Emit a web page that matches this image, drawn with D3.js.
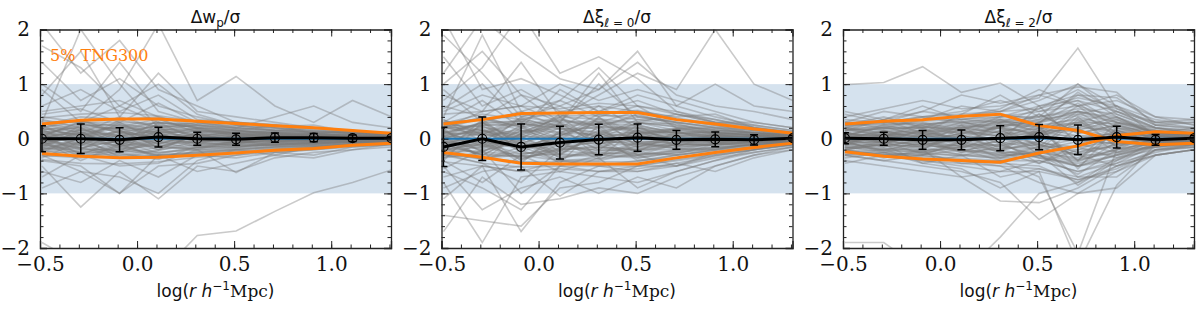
<!DOCTYPE html>
<html>
<head>
<meta charset="utf-8">
<script src="https://cdn.jsdelivr.net/npm/d3@7"></script>
<style>
	body { margin: 0; background: #fff; }
	svg { display: block; }
</style>
</head>
<body>
<div id="chart"></div>
<script>
// x positions of the radial bins (log r)
var xBins = [-0.49, -0.29, -0.09, 0.11, 0.31, 0.51, 0.71, 0.91, 1.11, 1.31];

var xTickVals = [-0.5, 0.0, 0.5, 1.0];
var xTickLabels = ["\u22120.5", "0.0", "0.5", "1.0"];
var yTickVals = [2, 1, 0, -1, -2];
var yTickLabels = ["2", "1", "0", "\u22121", "\u22122"];

//------------- w_p panel
var wpMean = [0.0, 0.0, -0.02, 0.03, 0.0, -0.01, 0.02, 0.02, 0.01, 0.01];
var wpErr = [0.24, 0.27, 0.22, 0.18, 0.12, 0.11, 0.085, 0.075, 0.06, 0.03];
var wpOrangeHi = [0.27, 0.34, 0.36, 0.36, 0.32, 0.28, 0.24, 0.2, 0.15, 0.1];
var wpOrangeLo = [-0.27, -0.32, -0.35, -0.34, -0.3, -0.26, -0.21, -0.18, -0.12, -0.08];
var wpGrey = [
	[0.1, 0.2, 0.05, 0.15, 0.08, 0.05, 0.03, 0.02, 0.02, 0.01],
	[-0.1, -0.25, -0.15, -0.05, -0.1, -0.06, -0.05, -0.03, -0.02, -0.02],
	[0.2, 0.05, 0.25, 0.1, 0.15, 0.1, 0.07, 0.05, 0.03, 0.02],
	[-0.2, -0.1, -0.3, -0.2, -0.12, -0.1, -0.08, -0.06, -0.04, -0.03],
	[0.05, 0.3, 0.1, 0.25, 0.05, 0.12, 0.1, 0.08, 0.05, 0.04],
	[-0.05, 0.1, -0.1, 0.05, 0.0, -0.02, 0.01, 0.0, 0.01, 0.0],
	[0.3, 0.15, 0.2, 0.3, 0.2, 0.15, 0.12, 0.1, 0.07, 0.05],
	[-0.3, -0.35, -0.2, -0.25, -0.2, -0.15, -0.12, -0.1, -0.07, -0.05],
	[0.15, -0.05, 0.3, -0.05, 0.1, 0.03, 0.05, 0.04, 0.03, 0.02],
	[-0.15, 0.25, -0.05, 0.2, -0.05, 0.06, -0.02, 0.03, 0.0, 0.01],
	[0.0, -0.2, 0.15, -0.15, 0.05, -0.08, 0.02, -0.04, -0.01, -0.01],
	[0.25, 0.4, 0.35, 0.4, 0.25, 0.2, 0.15, 0.12, 0.1, 0.06],
	[-0.25, -0.15, -0.35, -0.3, -0.25, -0.2, -0.15, -0.12, -0.08, -0.06],
	[0.1, -0.3, 0.0, 0.1, -0.15, -0.05, -0.06, -0.02, -0.03, -0.02],
	[-0.1, 0.05, 0.2, -0.1, 0.12, 0.08, 0.04, 0.06, 0.02, 0.03],
	[0.35, 0.2, -0.1, 0.35, 0.18, 0.1, 0.08, 0.04, 0.05, 0.03],
	[-0.35, -0.05, -0.25, 0.0, -0.08, -0.12, -0.1, -0.08, -0.05, -0.04],
	[0.05, 0.1, 0.4, 0.2, 0.3, 0.22, 0.18, 0.14, 0.1, 0.07],
	[-0.05, -0.4, -0.1, -0.35, -0.28, -0.22, -0.18, -0.14, -0.1, -0.07],
	[0.2, 0.35, 0.1, 0.05, 0.0, 0.02, 0.06, 0.05, 0.04, 0.02],
	[-0.2, 0.0, 0.05, -0.2, 0.08, -0.04, 0.0, -0.02, 0.0, -0.01],
	[0.0, 0.15, -0.25, 0.3, -0.02, 0.0, 0.03, 0.01, 0.02, 0.0],
	[0.12, 0.22, 0.28, 0.18, 0.14, 0.1, 0.09, 0.07, 0.05, 0.04],
	[-0.12, -0.18, -0.22, -0.28, -0.16, -0.14, -0.1, -0.08, -0.06, -0.04],
	[0.22, 0.28, 0.12, 0.24, 0.22, 0.18, 0.14, 0.11, 0.08, 0.06],
	[-0.22, -0.28, -0.18, -0.12, -0.22, -0.18, -0.14, -0.11, -0.08, -0.05],
	[0.08, -0.12, 0.18, 0.08, -0.04, 0.04, -0.03, 0.02, 0.01, 0.01],
	[-0.08, 0.12, -0.18, -0.08, 0.04, -0.04, 0.03, -0.02, -0.01, -0.01],
	[0.28, 0.1, 0.22, 0.14, 0.26, 0.2, 0.16, 0.13, 0.09, 0.07],
	[-0.28, -0.22, -0.1, -0.32, -0.26, -0.2, -0.16, -0.13, -0.09, -0.07],
	[0.0, 0.05, -0.05, 0.02, 0.03, 0.01, -0.01, 0.01, 0.0, 0.0],
	[0.18, -0.18, 0.08, -0.1, 0.1, -0.06, 0.06, -0.03, 0.02, 0.01],
	[-0.18, 0.18, -0.08, 0.12, -0.1, 0.06, -0.06, 0.03, -0.02, -0.01],
	[0.32, 0.3, 0.3, 0.28, 0.28, 0.24, 0.2, 0.16, 0.12, 0.08],
	[-0.32, -0.3, -0.3, -0.3, -0.28, -0.24, -0.19, -0.16, -0.11, -0.07],
	[0.04, 0.32, 0.22, 0.36, 0.12, 0.16, 0.11, 0.09, 0.06, 0.05],
	[-0.04, -0.32, -0.26, -0.38, -0.14, -0.16, -0.11, -0.09, -0.06, -0.05],
	[0.14, 0.08, -0.14, -0.02, 0.16, 0.08, 0.02, 0.06, 0.03, 0.02],
	[-0.14, -0.08, 0.14, 0.02, -0.16, -0.08, -0.02, -0.06, -0.03, -0.02],
	[0.24, -0.02, 0.34, 0.22, 0.04, 0.14, 0.1, 0.04, 0.07, 0.03],
	[-0.24, 0.02, -0.34, -0.22, -0.04, -0.14, -0.1, -0.04, -0.07, -0.03],
	[0.06, 0.16, 0.06, 0.12, 0.18, 0.12, 0.13, 0.1, 0.04, 0.05],
	[-0.06, -0.16, -0.04, -0.14, -0.18, -0.1, -0.13, -0.1, -0.04, -0.05],
	[0.16, 0.26, 0.16, -0.16, 0.06, 0.0, 0.04, -0.01, 0.05, 0.02],
	[-0.16, -0.26, -0.12, 0.16, -0.06, 0.02, -0.04, 0.01, -0.05, -0.02],
	[0.38, 0.45, 0.48, 0.42, 0.32, 0.3, 0.26, 0.2, 0.14, 0.1],
	[-0.38, -0.45, -0.46, -0.42, -0.34, -0.3, -0.24, -0.2, -0.13, -0.1],
	[0.03, 0.12, -0.06, 0.08, 0.06, 0.03, 0.02, 0.03, 0.01, 0.01],
	[-0.03, -0.12, 0.06, -0.08, -0.06, -0.03, -0.02, -0.03, -0.01, -0.01],
	[0.1, 0.05, 0.12, -0.03, 0.09, 0.07, 0.05, 0.02, 0.03, 0.02],
	[-0.1, -0.05, -0.12, 0.03, -0.09, -0.07, -0.05, -0.02, -0.03, -0.02],
	[0.17, 0.2, 0.2, 0.12, 0.12, 0.09, 0.08, 0.06, 0.04, 0.03],
	[-0.17, -0.2, -0.2, -0.12, -0.12, -0.09, -0.08, -0.06, -0.04, -0.03],
	[0.0, 0.18, 0.02, 0.2, -0.08, 0.05, 0.04, 0.05, 0.02, 0.0],
	[0.0, -0.18, -0.02, -0.2, 0.08, -0.05, -0.04, -0.05, -0.02, 0.0],
	[0.22, 0.12, 0.05, 0.26, 0.15, 0.13, 0.11, 0.08, 0.06, 0.04],
	[-0.22, -0.12, -0.05, -0.26, -0.15, -0.13, -0.11, -0.08, -0.06, -0.04],
	[0.07, 0.25, 0.25, 0.05, 0.2, 0.16, 0.06, 0.09, 0.05, 0.03],
	[-0.07, -0.25, -0.25, -0.05, -0.2, -0.16, -0.06, -0.09, -0.05, -0.03],
	[0.13, -0.1, 0.1, 0.13, 0.02, 0.06, 0.08, 0.0, 0.04, 0.02],
	[-0.13, 0.1, -0.1, -0.13, -0.02, -0.06, -0.08, 0.0, -0.04, -0.02],
	[0.26, 0.32, 0.15, 0.3, 0.24, 0.19, 0.15, 0.13, 0.1, 0.06],
	[-0.26, -0.32, -0.15, -0.3, -0.24, -0.19, -0.15, -0.13, -0.1, -0.06],
	[0.05, 0.0, 0.14, 0.0, 0.0, 0.1, 0.0, 0.04, 0.0, 0.01],
	[-0.05, 0.0, -0.14, 0.0, 0.0, -0.1, 0.0, -0.04, 0.0, -0.01],
	[0.19, 0.06, 0.26, 0.16, 0.19, 0.04, 0.12, 0.07, 0.07, 0.05],
	[-0.19, -0.06, -0.26, -0.16, -0.19, -0.04, -0.12, -0.07, -0.07, -0.05],
	[0.6, 0.9, 0.5, 0.8, 0.35, 0.3, 0.2, 0.15, 0.1, 0.08],
	[1.4, 0.7, 1.1, 0.6, 0.4, 0.25, 0.15, 0.2, 0.12, 0.1],
	[0.8, 1.6, 0.4, 1.2, 0.5, 0.4, 0.3, 0.2, 0.15, 0.1],
	[2.1, 1.2, 1.8, 0.9, 0.6, 0.3, 0.25, 0.18, 0.1, 0.12],
	[0.4, 0.3, 0.9, 2.1, 0.7, 1.14, 0.6, 0.3, 0.7, 0.4],
	[1.0, 0.5, 1.4, 0.5, 0.3, 0.2, 0.4, 0.6, 0.3, 0.2],
	[-0.6, -0.8, -0.4, -0.7, -0.3, -0.35, -0.25, -0.2, -0.15, -0.1],
	[-0.9, -0.6, -1.0, -0.5, -0.45, -0.3, -0.2, -0.15, -0.1, -0.05],
	[-0.5, -1.25, -0.6, -1.1, -0.5, -0.6, -0.35, -0.25, -0.2, -0.15],
	[-0.4, -0.5, -1.0, -0.3, -0.6, -0.45, -0.3, -0.35, -0.2, -0.1],
	[-1.9, -2.3, -2.6, -2.5, -1.77, -1.69, -1.33, -0.99, -0.8, -0.57],
	[0.5, 0.6, 0.7, 0.4, 0.2, 0.15, 0.25, 0.1, 0.05, 0.1],
	[0.9, 0.3, 0.6, 1.0, 0.45, 0.25, 0.2, 0.1, 0.15, 0.06],
	[-0.7, -0.3, -0.5, -0.45, -0.2, -0.62, -0.25, -0.3, -0.15, -0.12],
	[1.7, 1.3, 0.6, 0.3, 0.2, 0.1, 0.05, 0.08, 0.06, 0.05],
	[0.3, 2.0, 1.0, 0.2, 0.25, 0.15, 0.1, 0.05, 0.04, 0.03],
	[-0.3, -0.6, -0.7, -1.0, -0.4, -0.2, -0.3, -0.15, -0.1, -0.08],
	[0.45, 0.55, 0.3, 0.65, 0.3, 0.3, 0.22, 0.25, 0.12, 0.1]
];

//------------- xi_0 panel
var xi0Mean = [-0.15, 0.0, -0.15, -0.07, -0.015, 0.02, -0.02, -0.01, -0.02, 0.01];
var xi0Err = [0.36, 0.4, 0.42, 0.3, 0.28, 0.25, 0.17, 0.135, 0.095, 0.05];
var xi0OrangeHi = [0.27, 0.35, 0.46, 0.47, 0.48, 0.48, 0.35, 0.27, 0.18, 0.1];
var xi0OrangeLo = [-0.25, -0.34, -0.45, -0.46, -0.46, -0.46, -0.35, -0.25, -0.16, -0.08];
var xi0Grey = [
	[0.1, 0.3, -0.1, 0.2, 0.1, 0.25, 0.1, 0.05, 0.03, 0.02],
	[-0.2, -0.1, -0.35, -0.2, -0.15, -0.2, -0.12, -0.08, -0.05, -0.03],
	[0.25, 0.1, 0.3, 0.0, 0.35, 0.1, 0.2, 0.12, 0.06, 0.04],
	[-0.1, -0.3, 0.05, -0.35, -0.25, -0.3, -0.2, -0.15, -0.1, -0.05],
	[0.0, 0.2, -0.2, 0.1, -0.05, 0.05, 0.0, 0.02, -0.01, 0.0],
	[-0.3, 0.05, -0.4, -0.1, -0.3, -0.35, -0.25, -0.18, -0.12, -0.07],
	[0.2, 0.4, 0.2, 0.35, 0.25, 0.4, 0.3, 0.2, 0.12, 0.06],
	[-0.05, -0.2, 0.15, -0.15, 0.15, -0.1, 0.05, -0.04, 0.02, -0.01],
	[0.15, -0.15, 0.4, 0.3, 0.0, 0.3, 0.15, 0.1, 0.08, 0.05],
	[-0.25, 0.35, -0.15, 0.05, 0.3, -0.05, -0.08, 0.0, -0.03, 0.01],
	[0.05, -0.35, -0.3, -0.4, -0.4, -0.25, -0.3, -0.2, -0.1, -0.06],
	[0.3, 0.15, 0.0, 0.45, 0.2, 0.45, 0.25, 0.15, 0.1, 0.07],
	[-0.15, 0.0, -0.45, 0.15, -0.2, 0.15, -0.15, -0.1, -0.06, -0.04],
	[0.1, 0.25, 0.25, -0.25, 0.4, -0.15, 0.1, 0.06, 0.04, 0.02],
	[-0.35, -0.25, 0.1, 0.25, -0.35, 0.2, -0.05, 0.08, 0.01, 0.03],
	[0.0, 0.1, -0.1, -0.05, 0.05, -0.4, -0.35, -0.25, -0.15, -0.08],
	[0.35, -0.05, 0.35, 0.1, 0.45, 0.35, 0.35, 0.25, 0.15, 0.09],
	[-0.4, 0.3, -0.25, -0.3, 0.1, 0.05, 0.02, -0.05, -0.02, -0.02],
	[0.2, -0.4, 0.1, 0.4, -0.1, 0.0, 0.18, 0.14, 0.06, 0.04],
	[-0.1, 0.15, -0.05, -0.45, 0.25, -0.3, -0.1, -0.12, -0.08, -0.04],
	[0.12, 0.28, 0.32, 0.25, 0.3, 0.3, 0.22, 0.16, 0.1, 0.05],
	[-0.12, -0.28, -0.32, -0.28, -0.3, -0.32, -0.22, -0.16, -0.1, -0.05],
	[0.22, 0.05, 0.12, 0.38, 0.15, 0.2, 0.05, 0.08, 0.04, 0.03],
	[-0.22, -0.05, -0.15, -0.38, -0.15, -0.2, -0.05, -0.08, -0.04, -0.03],
	[0.05, 0.18, -0.25, 0.05, 0.38, 0.12, 0.12, 0.04, 0.05, 0.02],
	[-0.05, -0.18, 0.25, -0.05, -0.38, -0.12, -0.12, -0.04, -0.05, -0.02],
	[0.3, 0.35, 0.42, 0.42, 0.42, 0.42, 0.3, 0.22, 0.15, 0.08],
	[-0.3, -0.35, -0.42, -0.42, -0.42, -0.42, -0.3, -0.22, -0.14, -0.08],
	[0.0, -0.05, 0.05, 0.0, -0.02, 0.02, 0.01, -0.01, 0.0, 0.0],
	[0.16, -0.25, 0.2, -0.1, 0.2, -0.25, 0.15, -0.1, 0.06, -0.02],
	[-0.16, 0.25, -0.2, 0.1, -0.2, 0.25, -0.15, 0.1, -0.06, 0.02],
	[0.08, 0.12, 0.38, 0.18, 0.05, 0.35, 0.25, 0.18, 0.11, 0.06],
	[-0.08, -0.12, -0.38, -0.18, -0.05, -0.35, -0.25, -0.18, -0.11, -0.06],
	[0.25, 0.22, 0.08, 0.3, 0.32, 0.08, 0.18, 0.2, 0.08, 0.05],
	[-0.25, -0.22, -0.08, -0.3, -0.32, -0.08, -0.18, -0.2, -0.08, -0.05],
	[0.18, 0.38, 0.15, 0.12, 0.22, 0.18, 0.08, 0.12, 0.07, 0.04],
	[-0.18, -0.38, -0.15, -0.12, -0.22, -0.18, -0.08, -0.12, -0.07, -0.04],
	[0.35, 0.08, 0.28, 0.2, 0.12, 0.28, 0.28, 0.1, 0.12, 0.07],
	[-0.35, -0.08, -0.28, -0.2, -0.12, -0.28, -0.28, -0.1, -0.12, -0.07],
	[0.04, 0.3, -0.05, 0.28, -0.1, 0.15, -0.02, 0.06, 0.02, 0.01],
	[-0.04, -0.3, 0.05, -0.28, 0.1, -0.15, 0.02, -0.06, -0.02, -0.01],
	[0.45, 0.5, 0.6, 0.55, 0.65, 0.6, 0.45, 0.35, 0.22, 0.12],
	[-0.42, -0.5, -0.6, -0.55, -0.6, -0.6, -0.45, -0.32, -0.2, -0.12],
	[0.28, 0.45, 0.35, 0.5, 0.45, 0.52, 0.38, 0.28, 0.18, 0.1],
	[-0.28, -0.45, -0.52, -0.5, -0.5, -0.5, -0.38, -0.28, -0.18, -0.1],
	[0.03, 0.15, -0.08, 0.1, 0.08, 0.05, 0.03, 0.03, 0.01, 0.01],
	[-0.03, -0.15, 0.08, -0.1, -0.08, -0.05, -0.03, -0.03, -0.01, -0.01],
	[0.12, 0.06, 0.16, -0.04, 0.12, 0.1, 0.07, 0.03, 0.03, 0.02],
	[-0.12, -0.06, -0.16, 0.04, -0.12, -0.1, -0.07, -0.03, -0.03, -0.02],
	[0.18, 0.25, 0.28, 0.18, 0.2, 0.15, 0.12, 0.08, 0.05, 0.03],
	[-0.18, -0.25, -0.28, -0.18, -0.2, -0.15, -0.12, -0.08, -0.05, -0.03],
	[0.0, 0.22, 0.02, 0.28, -0.1, 0.08, 0.05, 0.06, 0.02, 0.0],
	[0.0, -0.22, -0.02, -0.28, 0.1, -0.08, -0.05, -0.06, -0.02, 0.0],
	[0.22, 0.15, 0.06, 0.34, 0.22, 0.2, 0.15, 0.1, 0.07, 0.04],
	[-0.22, -0.15, -0.06, -0.34, -0.22, -0.2, -0.15, -0.1, -0.07, -0.04],
	[0.08, 0.3, 0.32, 0.06, 0.28, 0.25, 0.1, 0.12, 0.06, 0.03],
	[-0.08, -0.3, -0.32, -0.06, -0.28, -0.25, -0.1, -0.12, -0.06, -0.03],
	[0.14, -0.12, 0.14, 0.18, 0.03, 0.1, 0.12, 0.0, 0.05, 0.02],
	[-0.14, 0.12, -0.14, -0.18, -0.03, -0.1, -0.12, 0.0, -0.05, -0.02],
	[0.26, 0.38, 0.22, 0.4, 0.36, 0.3, 0.22, 0.16, 0.12, 0.06],
	[-0.26, -0.38, -0.22, -0.4, -0.36, -0.3, -0.22, -0.16, -0.12, -0.06],
	[0.05, 0.0, 0.2, 0.0, 0.0, 0.15, 0.0, 0.05, 0.0, 0.01],
	[-0.05, 0.0, -0.2, 0.0, 0.0, -0.15, 0.0, -0.05, 0.0, -0.01],
	[0.2, 0.08, 0.36, 0.22, 0.28, 0.06, 0.18, 0.09, 0.08, 0.05],
	[-0.2, -0.08, -0.36, -0.22, -0.28, -0.06, -0.18, -0.09, -0.08, -0.05],
	[1.0, 1.6, 0.8, 0.6, 0.9, 1.6, 0.6, 0.4, 0.25, 0.15],
	[2.2, 0.9, 1.1, 0.8, 0.5, 0.7, 0.45, 0.3, 0.2, 0.1],
	[0.7, 1.3, 2.3, 1.2, 1.5, 1.1, 0.5, 0.35, 0.2, 0.12],
	[0.5, 0.8, 0.6, 1.0, 0.7, 0.9, 0.7, 0.5, 0.3, 0.2],
	[1.5, 0.6, 0.9, 0.5, 0.6, 0.5, 0.4, 0.45, 0.2, 0.12],
	[0.4, 1.9, 0.5, 0.7, 1.3, 0.6, 0.5, 0.3, 0.25, 0.15],
	[0.8, 0.5, 1.4, 0.4, 0.8, 1.2, 0.9, 2.0, 1.0, 0.7],
	[0.3, 0.7, 0.2, 0.9, 0.5, 0.8, 0.6, 1.0, 0.6, 0.5],
	[0.6, 0.4, 0.8, 0.3, 1.0, 0.4, 0.3, 0.2, 0.15, 0.1],
	[1.9, 1.2, 0.4, 0.6, 0.3, 0.5, 0.35, 0.25, 0.1, 0.08],
	[-0.6, -0.9, -1.3, -0.5, -0.6, -0.5, -0.4, -0.3, -0.2, -0.1],
	[-1.1, -0.5, -1.7, -0.8, -0.5, -0.6, -0.5, -0.25, -0.15, -0.1],
	[-0.8, -1.9, -0.7, -0.6, -0.7, -0.8, -0.6, -0.4, -0.25, -0.15],
	[-1.7, -0.7, -1.2, -1.1, -0.9, -1.0, -0.7, -0.5, -0.3, -0.2],
	[-0.5, -1.3, -0.9, -0.7, -1.0, -0.7, -0.9, -0.5, -0.3, -0.15],
	[-0.9, -0.6, -0.5, -1.05, -0.6, -0.55, -0.45, -0.6, -0.35, -0.2],
	[-1.4, -1.5, -1.6, -0.9, -0.8, -0.5, -0.5, -0.3, -0.2, -0.1],
	[-0.7, -0.5, -0.6, -0.4, -0.5, -0.4, -0.3, -0.2, -0.15, -0.1],
	[0.9, 0.3, 0.5, 0.2, 0.6, 0.2, 0.1, 0.15, 0.1, 0.05],
	[-0.4, -0.8, -0.3, -0.6, -0.35, -0.9, -0.6, -0.4, -0.2, -0.12],
	[1.2, 2.2, 1.6, 1.1, 0.9, 1.4, 0.8, 0.6, 0.5, 0.35],
	[0.2, 0.5, 0.6, 0.3, 1.2, 0.3, 0.45, 0.3, 0.3, 0.2],
	[-0.3, -0.45, -0.8, -0.2, -0.15, -0.3, -0.5, -0.35, -0.25, -0.15],
	[0.55, 1.0, 0.3, 0.7, 0.4, 0.6, 0.2, 0.1, 0.05, 0.04],
	[-0.55, -0.2, -1.0, -0.5, -0.3, -0.2, -0.2, -0.1, -0.05, -0.04]
];

//------------- xi_2 panel
var xi2Mean = [0.01, 0.0, -0.02, -0.02, 0.01, 0.03, -0.02, 0.03, -0.02, 0.01];
var xi2Err = [0.1, 0.12, 0.17, 0.18, 0.23, 0.23, 0.27, 0.2, 0.1, 0.05];
var xi2OrangeA = [0.27, 0.32, 0.35, 0.41, 0.45, 0.24, 0.15, -0.05, -0.11, -0.08];
var xi2OrangeB = [-0.24, -0.32, -0.37, -0.4, -0.43, -0.26, -0.13, 0.06, 0.13, 0.1];
var xi2Grey = [
	[0.1, 0.05, 0.15, 0.2, 0.3, 0.2, 0.3, 0.15, 0.05, 0.05],
	[-0.1, -0.15, -0.1, -0.2, -0.3, -0.25, -0.4, -0.2, -0.05, -0.03],
	[0.05, 0.1, -0.05, 0.1, 0.05, 0.3, 0.5, 0.35, 0.1, 0.08],
	[-0.05, 0.0, 0.1, -0.1, 0.15, -0.1, -0.3, -0.1, 0.02, -0.02],
	[0.15, 0.2, 0.2, 0.25, 0.35, 0.1, 0.2, 0.4, 0.15, 0.1],
	[-0.15, -0.2, -0.25, -0.15, -0.1, -0.35, -0.5, -0.3, -0.1, -0.06],
	[0.0, -0.05, 0.05, 0.0, -0.15, 0.15, 0.6, 0.1, -0.03, 0.02],
	[0.2, 0.15, 0.1, 0.3, 0.2, 0.45, 0.1, 0.25, 0.08, 0.12],
	[-0.2, -0.1, -0.15, -0.3, -0.35, -0.15, -0.7, -0.45, -0.12, -0.1],
	[0.05, 0.25, 0.3, 0.15, 0.4, 0.5, 0.7, 0.3, 0.2, 0.15],
	[-0.05, -0.25, -0.3, -0.05, -0.25, -0.45, -0.2, 0.05, -0.08, -0.05],
	[0.1, 0.0, -0.2, 0.2, 0.1, -0.2, 0.35, -0.15, 0.12, 0.06],
	[-0.1, 0.1, 0.0, -0.25, 0.0, 0.25, -0.55, 0.2, 0.0, 0.0],
	[0.25, 0.3, 0.25, 0.35, 0.45, 0.35, 0.8, 0.55, 0.25, 0.2],
	[-0.25, -0.3, -0.35, -0.4, -0.45, -0.5, -0.8, -0.35, -0.2, -0.15],
	[0.0, 0.05, 0.2, -0.05, 0.25, 0.05, 0.45, 0.6, 0.05, 0.03],
	[0.12, -0.05, 0.05, 0.05, -0.05, 0.6, -0.1, 0.15, -0.05, 0.04],
	[-0.12, 0.15, -0.05, 0.1, 0.2, -0.3, 0.2, -0.25, -0.15, -0.08],
	[0.05, -0.1, 0.1, -0.15, 0.3, 0.4, 1.0, 0.45, 0.2, 0.1],
	[-0.05, 0.05, -0.1, 0.25, -0.2, 0.2, -0.4, 0.3, 0.1, 0.05],
	[0.12, 0.18, 0.22, 0.28, 0.32, 0.25, 0.35, 0.2, 0.08, 0.06],
	[-0.12, -0.18, -0.22, -0.28, -0.32, -0.25, -0.35, -0.2, -0.08, -0.06],
	[0.2, 0.1, 0.15, 0.12, 0.2, 0.35, 0.45, 0.3, 0.12, 0.08],
	[-0.2, -0.1, -0.15, -0.12, -0.2, -0.35, -0.45, -0.3, -0.12, -0.08],
	[0.05, 0.22, 0.05, 0.22, 0.1, 0.05, 0.25, 0.1, 0.04, 0.03],
	[-0.05, -0.22, -0.05, -0.22, -0.1, -0.05, -0.25, -0.1, -0.04, -0.03],
	[0.25, 0.28, 0.32, 0.36, 0.4, 0.4, 0.55, 0.45, 0.18, 0.12],
	[-0.22, -0.28, -0.32, -0.36, -0.4, -0.4, -0.6, -0.4, -0.16, -0.12],
	[0.0, 0.02, -0.02, 0.05, 0.0, 0.08, 0.05, 0.0, 0.02, 0.01],
	[0.08, -0.08, 0.18, -0.08, 0.22, -0.15, 0.4, -0.15, 0.06, -0.03],
	[-0.08, 0.08, -0.18, 0.08, -0.22, 0.15, -0.4, 0.15, -0.06, 0.03],
	[0.15, 0.25, 0.12, 0.18, 0.28, 0.15, 0.15, 0.35, 0.1, 0.1],
	[-0.15, -0.25, -0.12, -0.18, -0.28, -0.15, -0.15, -0.35, -0.1, -0.1],
	[0.1, 0.12, 0.25, 0.32, 0.12, 0.3, 0.65, 0.2, 0.15, 0.05],
	[-0.1, -0.12, -0.25, -0.32, -0.12, -0.3, -0.65, -0.2, -0.15, -0.05],
	[0.18, 0.05, 0.28, 0.08, 0.35, 0.22, 0.3, 0.5, 0.2, 0.09],
	[-0.18, -0.05, -0.28, -0.08, -0.35, -0.22, -0.3, -0.5, -0.2, -0.09],
	[0.02, 0.15, 0.0, 0.15, 0.05, 0.45, 0.1, 0.25, -0.02, 0.04],
	[-0.02, -0.15, 0.0, -0.15, -0.05, -0.45, -0.1, -0.25, 0.02, -0.04],
	[0.22, 0.2, 0.08, 0.25, 0.18, 0.1, 0.5, 0.05, 0.14, 0.07],
	[-0.22, -0.2, -0.08, -0.25, -0.18, -0.1, -0.5, -0.05, -0.14, -0.07],
	[0.3, 0.3, 0.4, 0.45, 0.5, 0.55, 0.75, 0.6, 0.25, 0.18],
	[-0.28, -0.32, -0.4, -0.45, -0.5, -0.55, -0.75, -0.55, -0.22, -0.16],
	[0.08, 0.05, 0.12, 0.0, 0.25, 0.28, 0.85, 0.4, 0.05, 0.1],
	[-0.08, -0.05, -0.12, 0.0, -0.25, -0.28, -0.85, -0.4, -0.05, -0.1],
	[0.03, 0.08, -0.06, 0.1, 0.12, 0.08, 0.15, 0.05, 0.01, 0.01],
	[-0.03, -0.08, 0.06, -0.1, -0.12, -0.08, -0.15, -0.05, -0.01, -0.01],
	[0.1, 0.04, 0.12, -0.04, 0.15, 0.18, 0.28, 0.12, 0.04, 0.02],
	[-0.1, -0.04, -0.12, 0.04, -0.15, -0.18, -0.28, -0.12, -0.04, -0.02],
	[0.16, 0.18, 0.2, 0.2, 0.26, 0.22, 0.38, 0.25, 0.06, 0.04],
	[-0.16, -0.18, -0.2, -0.2, -0.26, -0.22, -0.38, -0.25, -0.06, -0.04],
	[0.0, 0.14, 0.02, 0.18, -0.1, 0.12, 0.2, 0.15, 0.02, 0.0],
	[0.0, -0.14, -0.02, -0.18, 0.1, -0.12, -0.2, -0.15, -0.02, 0.0],
	[0.2, 0.1, 0.05, 0.22, 0.3, 0.3, 0.42, 0.18, 0.08, 0.05],
	[-0.2, -0.1, -0.05, -0.22, -0.3, -0.3, -0.42, -0.18, -0.08, -0.05],
	[0.06, 0.22, 0.24, 0.05, 0.2, 0.1, 0.3, 0.28, 0.05, 0.03],
	[-0.06, -0.22, -0.24, -0.05, -0.2, -0.1, -0.3, -0.28, -0.05, -0.03],
	[0.13, -0.08, 0.08, 0.13, 0.05, 0.2, 0.05, 0.08, 0.06, 0.02],
	[-0.13, 0.08, -0.08, -0.13, -0.05, -0.2, -0.05, -0.08, -0.06, -0.02],
	[0.24, 0.26, 0.28, 0.3, 0.36, 0.32, 0.5, 0.38, 0.12, 0.08],
	[-0.24, -0.26, -0.28, -0.3, -0.36, -0.32, -0.5, -0.38, -0.12, -0.08],
	[0.05, 0.0, 0.14, 0.0, 0.0, 0.15, 0.0, 0.1, 0.0, 0.01],
	[-0.05, 0.0, -0.14, 0.0, 0.0, -0.15, 0.0, -0.1, 0.0, -0.01],
	[0.18, 0.06, 0.22, 0.15, 0.22, 0.05, 0.25, 0.05, 0.1, 0.05],
	[-0.18, -0.06, -0.22, -0.15, -0.22, -0.05, -0.25, -0.05, -0.1, -0.05],
	[0.99, 1.03, 1.32, 0.85, 1.02, 0.6, 0.7, 0.5, 0.3, 0.35],
	[0.4, 0.55, 0.7, 0.55, 0.6, 0.75, 1.66, 0.55, 0.3, 0.2],
	[0.5, 0.35, 0.5, 0.8, 0.65, 0.8, 0.95, 0.85, 0.25, 0.3],
	[0.3, 0.5, 0.4, 0.5, 0.7, 0.5, 0.6, 0.7, 0.4, 0.25],
	[-0.4, -0.5, -0.6, -0.7, -1.14, -1.17, -0.9, -0.5, -0.3, -0.2],
	[-0.3, -0.4, -0.5, -0.6, -0.8, -1.48, -1.0, -0.6, -0.3, -0.2],
	[-0.3, -0.2, -0.4, -0.5, -0.6, -0.6, -2.3, -0.85, -0.1, -0.05],
	[-0.2, -0.3, -0.3, -0.2, -0.4, -0.7, -2.1, -0.2, 0.1, 0.05],
	[-1.9, -1.9, -2.4, -2.5, -1.8, -1.0, -0.8, -0.5, -0.3, -0.2],
	[0.35, 0.3, 0.5, 0.4, 0.55, 0.9, 0.6, 0.8, 0.4, 0.35],
	[-0.35, -0.25, -0.45, -0.55, -0.9, -0.6, -0.75, -0.6, -0.2, -0.15],
	[0.2, 0.35, 0.6, 0.35, 0.3, 0.55, 0.9, 0.5, 0.2, 0.15],
	[-0.3, -0.4, -0.3, -0.4, -0.5, -0.8, -1.0, -0.9, -0.3, -0.2],
	[0.3, 0.2, 0.35, 0.6, 0.5, 0.7, 1.0, 0.6, 0.35, 0.25],
	[-0.2, -0.35, -0.2, -0.7, -0.6, -0.4, -0.6, -0.45, -0.25, -0.1],
	[0.15, 0.35, 0.1, 0.45, 0.8, 0.4, 0.5, 0.3, 0.15, 0.1],
	[-0.15, -0.1, -0.45, -0.3, -0.7, -0.55, -0.7, -0.7, -0.2, -0.12],
	[0.45, 0.3, 0.4, 0.3, 0.4, 0.6, 0.8, 0.75, 0.3, 0.3],
	[-0.45, -0.3, -0.25, -0.45, -0.4, -0.3, -0.5, -0.3, -0.15, -0.1],
	[0.25, 0.4, 0.2, 0.4, 0.5, 0.8, 0.6, 0.4, 0.1, 0.2]
];

var panels = [
	{ id: "wp", left: 40, title: ["\u0394w", "p", "", "/\u03c3"], grey: wpGrey, mean: wpMean, err: wpErr, orange: [wpOrangeHi, wpOrangeLo], note: "5% TNG300" },
	{ id: "xi0", left: 441.5, title: ["\u0394\u03be", "\u2113", " = 0", "/\u03c3"], grey: xi0Grey, mean: xi0Mean, err: xi0Err, orange: [xi0OrangeHi, xi0OrangeLo] },
	{ id: "xi2", left: 843, title: ["\u0394\u03be", "\u2113", " = 2", "/\u03c3"], grey: xi2Grey, mean: xi2Mean, err: xi2Err, orange: [xi2OrangeA, xi2OrangeB] }
];

var W = 1200, H = 310,
	_pw = 351,
	_top = 29.5,
	_bottom = 248,
	_serif = "'DejaVu Serif', 'Liberation Serif', serif",
	_sans = "'DejaVu Sans', sans-serif";

var svg = d3.select("#chart").append("svg").attr("width", W).attr("height", H);

//-------------------------
function drawPanel(p) {
	var x = d3.scaleLinear().domain([-0.5, 1.308]).range([p.left, p.left + _pw]),
		y = d3.scaleLinear().domain([-2, 2]).range([_bottom, _top]);

	var g = svg.append("g");

	g.append("clipPath").attr("id", "clip-" + p.id)
		.append("rect")
		.attr("x", x.range()[0]).attr("y", _top)
		.attr("width", _pw).attr("height", _bottom - _top);

	var plot = g.append("g").attr("clip-path", "url(#clip-" + p.id + ")");

	// 1 sigma band
	plot.append("rect")
		.attr("x", x.range()[0]).attr("width", _pw)
		.attr("y", y(1)).attr("height", y(-1) - y(1))
		.attr("fill", "#d5e2ee");

	var line = d3.line()
		.x(function (d, i) { return x(xBins[i]); })
		.y(function (d) { return y(d); });

	plot.selectAll("path.grey")
		.data(p.grey)
		.enter().append("path")
		.attr("class", "grey")
		.attr("d", line)
		.attr("fill", "none")
		.attr("stroke", "#7a7a7a")
		.attr("stroke-opacity", 0.4)
		.attr("stroke-width", 1.6);

	// zero line
	plot.append("line")
		.attr("x1", x.range()[0]).attr("x2", x.range()[1])
		.attr("y1", y(0)).attr("y2", y(0))
		.attr("stroke", "#1f77b4").attr("stroke-width", 2);

	plot.selectAll("path.orange")
		.data(p.orange)
		.enter().append("path")
		.attr("class", "orange")
		.attr("d", line)
		.attr("fill", "none")
		.attr("stroke", "#ff7f0e")
		.attr("stroke-width", 3);

	// mean + error bars
	plot.append("path")
		.attr("d", line(p.mean))
		.attr("fill", "none")
		.attr("stroke", "#000")
		.attr("stroke-width", 3);

	var eb = plot.selectAll("g.eb")
		.data(p.mean)
		.enter().append("g").attr("class", "eb");

	eb.append("line")
		.attr("x1", function (d, i) { return x(xBins[i]); })
		.attr("x2", function (d, i) { return x(xBins[i]); })
		.attr("y1", function (d, i) { return y(d + p.err[i]); })
		.attr("y2", function (d, i) { return y(d - p.err[i]); })
		.attr("stroke", "#000").attr("stroke-width", 1.5);

	[1, -1].forEach(function (s) {
		eb.append("line")
			.attr("x1", function (d, i) { return x(xBins[i]) - 4; })
			.attr("x2", function (d, i) { return x(xBins[i]) + 4; })
			.attr("y1", function (d, i) { return y(d + s * p.err[i]); })
			.attr("y2", function (d, i) { return y(d + s * p.err[i]); })
			.attr("stroke", "#000").attr("stroke-width", 1.5);
	});

	eb.append("circle")
		.attr("cx", function (d, i) { return x(xBins[i]); })
		.attr("cy", function (d) { return y(d); })
		.attr("r", 4.5)
		.attr("fill", "none")
		.attr("stroke", "#000").attr("stroke-width", 1.2);

	//------------- axes, ticks inside on all four sides
	var minorX = d3.range(-5, 14).map(function (v) { return v / 10; }),
		minorY = d3.range(-10, 11).map(function (v) { return v / 5; });

	var axB = d3.axisBottom(x).tickValues(xTickVals).tickSize(-7).tickFormat(function (d, i) { return xTickLabels[i]; }).tickPadding(12),
		axT = d3.axisTop(x).tickValues(xTickVals).tickSize(-7).tickFormat(""),
		axL = d3.axisLeft(y).tickValues(yTickVals).tickSize(-7).tickFormat(function (d, i) { return yTickLabels[i]; }).tickPadding(10),
		axR = d3.axisRight(y).tickValues(yTickVals).tickSize(-7).tickFormat("");

	function minor(axisFn, scale, vals, tr) {
		g.append("g").attr("transform", tr)
			.call(axisFn(scale).tickValues(vals).tickSize(-3.5).tickFormat(""))
			.call(function (s) { s.select(".domain").remove(); });
	}
	minor(d3.axisBottom, x, minorX, "translate(0," + _bottom + ")");
	minor(d3.axisTop, x, minorX, "translate(0," + _top + ")");
	minor(d3.axisLeft, y, minorY, "translate(" + x.range()[0] + ",0)");
	minor(d3.axisRight, y, minorY, "translate(" + x.range()[1] + ",0)");

	var gb = g.append("g").attr("transform", "translate(0," + _bottom + ")").call(axB);
	g.append("g").attr("transform", "translate(0," + _top + ")").call(axT);
	var gl = g.append("g").attr("transform", "translate(" + x.range()[0] + ",0)").call(axL);
	g.append("g").attr("transform", "translate(" + x.range()[1] + ",0)").call(axR);

	g.selectAll(".domain").attr("stroke", "#222").attr("stroke-width", 1.3);
	g.selectAll(".tick line").attr("stroke", "#222");
	gb.selectAll("text").attr("dy", "0.55em");
	[gb, gl].forEach(function (a) {
		a.attr("font-family", null).attr("font-size", null);
		a.selectAll("text")
			.attr("font-family", _serif)
			.attr("font-size", 20)
			.attr("fill", "#111");
	});

	//------------- title
	var cx = p.left + _pw / 2;
	var t = g.append("text")
		.attr("x", cx).attr("y", 23)
		.attr("text-anchor", "middle")
		.attr("font-family", _sans)
		.attr("font-size", 17)
		.attr("fill", "#111");
	t.append("tspan").text(p.title[0]);
	t.append("tspan").attr("dy", 4).attr("font-size", 12)
		.attr("font-style", p.id === "wp" ? "normal" : "italic")
		.text(p.title[1]);
	if (p.title[2])
		t.append("tspan").attr("font-size", 12).text(p.title[2]);
	t.append("tspan").attr("dy", -4).text(p.title[3]);

	//------------- x label
	var xl = g.append("text")
		.attr("x", cx).attr("y", 297)
		.attr("text-anchor", "middle")
		.attr("font-family", _sans)
		.attr("font-size", 17)
		.attr("fill", "#111");
	xl.append("tspan").text("log(");
	xl.append("tspan").attr("font-style", "italic").text("r h");
	xl.append("tspan").attr("dy", -7).attr("font-size", 12).text("\u22121");
	xl.append("tspan").attr("dy", 7).attr("font-family", _serif).text("Mpc");
	xl.append("tspan").text(")");

	if (p.note) {
		g.append("text")
			.attr("x", p.left + 10).attr("y", 61)
			.attr("font-family", _serif)
			.attr("font-size", 16)
			.attr("fill", "#ff7f0e")
			.text(p.note);
	}
}

panels.forEach(drawPanel);
</script>
</body>
</html>
